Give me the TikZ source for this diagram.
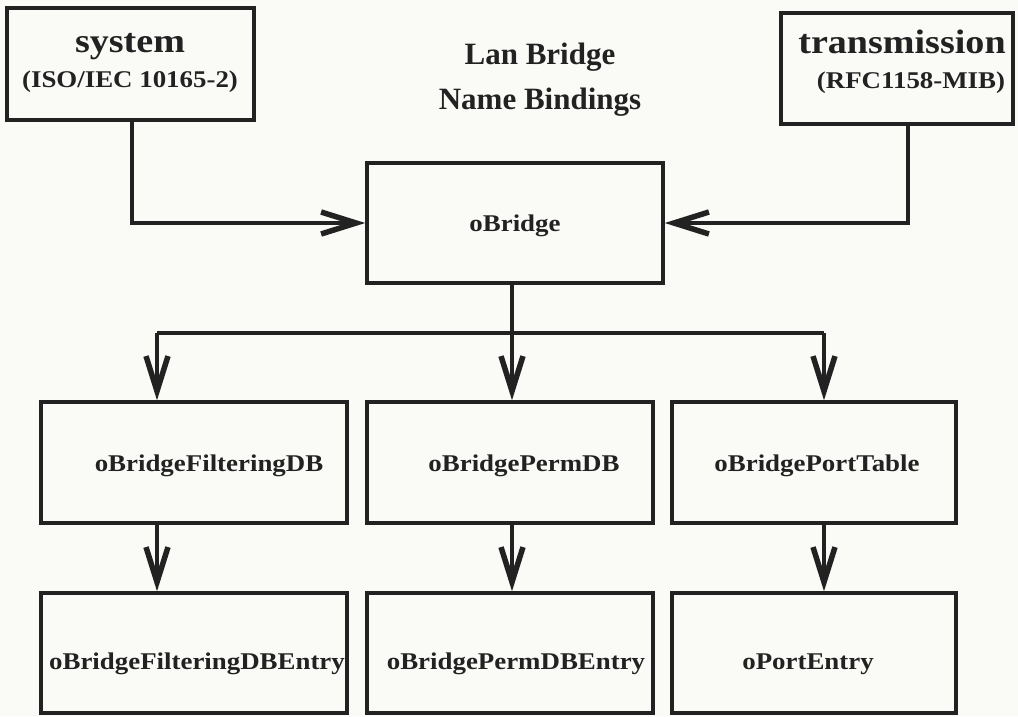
\documentclass[tikz,border=0pt]{standalone}
\usepackage{fontspec}
\setmainfont{Liberation Serif}
\usetikzlibrary{arrows.meta}
\definecolor{paper}{RGB}{250,250,246}
\definecolor{ink}{RGB}{34,34,34}
\newcommand{\wtext}[2]{\fontsize{#1}{#1}\selectfont\bfseries\scalebox{1.12}[1]{#2}}
\tikzset{
  box/.style={draw=ink, line width=3.5pt, rectangle, inner sep=0pt, text=ink},
  lbl/.style={text=ink, inner sep=0pt},
  link/.style={draw=ink, line width=3.5pt},
  arr/.style={link, -{Straight Barb[length=35pt, width=22pt, line width=5.5pt]}},
}
\begin{document}
\begin{tikzpicture}[x=1pt, y=-1pt]
  % page
  \fill[paper] (0,0) rectangle (1018,716);
  \useasboundingbox (0,0) rectangle (1018,716);

  % title
  \node[lbl, align=center, font=\fontsize{31}{45}\selectfont\bfseries] (title) at (540,80)
    {Lan Bridge\\Name Bindings};

  % top row
  \node[box, minimum width=247pt, minimum height=112pt] (sys) at (130.5,64) {};
  \node[lbl] (sysA) at (130,47) {\wtext{34}{system}};
  \node[lbl] (sysB) at (130,82) {\wtext{24}{(ISO/IEC 10165-2)}};

  \node[box, minimum width=232pt, minimum height=111pt] (trans) at (897,68.5) {};
  \node[lbl] (transA) at (902,42) {\wtext{34}{transmission}};
  \node[lbl] (transB) at (911,83) {\wtext{24}{(RFC1158-MIB)}};

  % central object
  \node[box, minimum width=296pt, minimum height=120pt] (ob) at (515,223) {};
  \node[lbl] (obT) at (515,226) {\wtext{24}{oBridge}};

  % second row
  \node[box, minimum width=306pt, minimum height=121pt] (fdb) at (194,462.5) {};
  \node[lbl] (fdbT) at (209,466) {\wtext{24}{oBridgeFilteringDB}};
  \node[box, minimum width=286pt, minimum height=121pt] (pdb) at (510,462.5) {};
  \node[lbl] (pdbT) at (524,466) {\wtext{24}{oBridgePermDB}};
  \node[box, minimum width=284pt, minimum height=121pt] (ptab) at (814,462.5) {};
  \node[lbl] (ptabT) at (817,466) {\wtext{24}{oBridgePortTable}};

  % third row
  \node[box, minimum width=306pt, minimum height=120pt] (fde) at (194,653) {};
  \node[lbl] (fdeT) at (197,664) {\wtext{24}{oBridgeFilteringDBEntry}};
  \node[box, minimum width=286pt, minimum height=120pt] (pde) at (510,653) {};
  \node[lbl] (pdeT) at (516,664) {\wtext{24}{oBridgePermDBEntry}};
  \node[box, minimum width=284pt, minimum height=120pt] (pe) at (814,653) {};
  \node[lbl] (peT) at (808,664) {\wtext{24}{oPortEntry}};

  % bindings into oBridge
  \draw[arr] ([xshift=1.5pt]sys.south) |- (ob.west);
  \draw[arr] ([xshift=11pt]trans.south) |- (ob.east);

  % distribution bus below oBridge
  \coordinate (busL) at (157,333);
  \coordinate (busM) at (512,333);
  \coordinate (busR) at (824,333);
  \draw[link] (busM |- ob.south) -- (busM);
  \draw[link] (busL) -- (busR);
  \draw[arr] (busL) -- (busL |- fdb.north);
  \draw[arr] (busM) -- (busM |- pdb.north);
  \draw[arr] (busR) -- (busR |- ptab.north);

  % entries
  \draw[arr] (busL |- fdb.south) -- (busL |- fde.north);
  \draw[arr] (busM |- pdb.south) -- (busM |- pde.north);
  \draw[arr] (busR |- ptab.south) -- (busR |- pe.north);
\end{tikzpicture}
\end{document}
